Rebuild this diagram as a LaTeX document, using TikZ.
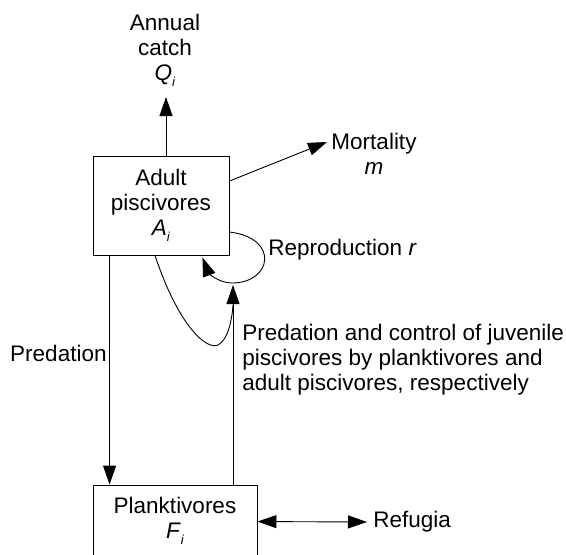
\documentclass[tikz,border=0pt]{standalone}
\usepackage{fontspec}
\setmainfont{Liberation Sans}
\usetikzlibrary{arrows.meta}
\newcommand{\subi}{\raisebox{-6pt}{\fontsize{13}{13}\selectfont\textit{i}}}
\begin{document}
\begin{tikzpicture}[x=1pt,y=-1pt,
  line width=0.9pt,
  >={Triangle[length=19pt,width=13pt]},
  every node/.style={font=\fontsize{22.5}{25}\selectfont, inner sep=0pt},
  box/.style={draw, align=center}]
\useasboundingbox (0,0) rectangle (566,555);
% boxes
\node[box, minimum width=136pt, minimum height=99pt] (A) at (161,205.5) {Adult\\piscivores\\\textit{A}\subi};
\node[box, minimum width=164pt, minimum height=72pt] (F) at (175,521) {Planktivores\\\textit{F}\subi};
% labels
\node[align=center] (C) at (165,50) {Annual\\catch\\\textit{Q}\subi};
\node[align=center] (M) at (374,154) {Mortality\\\textit{m}};
\node[anchor=west] (R) at (268,250) {Reproduction \textit{r}};
\node[anchor=east] (P) at (107,353) {Predation};
\node[anchor=west, align=left] (T) at (242,360) {Predation and control of juvenile\\piscivores by planktivores and\\adult piscivores, respectively};
\node[anchor=west] (G) at (373,522) {Refugia};
% coordinates
\coordinate (qtip) at (166,97);
\coordinate (mtip) at (327,142);
\coordinate (rb) at (233,285);
\coordinate (J) at (233,305);
% connectors
\draw[->] (A.north -| qtip) -- (qtip);
\draw[->] ([yshift=24.5pt]A.east) -- (mtip);
\draw[->] ([yshift=-26.5pt]A.east) .. controls (280,238) and (272,283) .. (232,283)
  .. controls (218,283) and (208,272) .. ([xshift=-27pt,yshift=-2pt]A.south east);
\draw[->] ([xshift=17pt]A.south west) -- ([xshift=17pt]F.north west);
\draw[->] ([xshift=58pt]F.north) -- (rb);
\draw ([xshift=-6pt]A.south) .. controls (180,330) and (208,350) .. (218,345)
  .. controls (228,340) and (232,320) .. (J);
\draw[<->] ([yshift=-37pt]F.north east) -- ([xshift=-6pt]G.west);
\end{tikzpicture}
\end{document}
